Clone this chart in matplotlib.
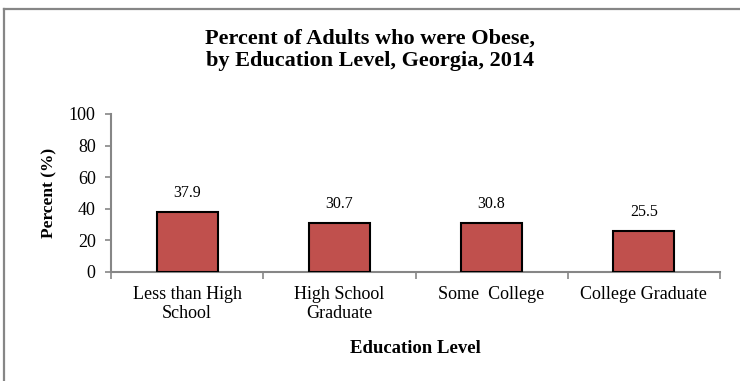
import matplotlib
matplotlib.use("Agg")
import matplotlib.pyplot as plt
from matplotlib.lines import Line2D

# ── Data ───────────────────────────────────────────────────────────────
categories = ["Less than High\nSchool", "High School\nGraduate", "Some  College", "College Graduate"]
values = [37.9, 30.7, 30.8, 25.5]
yticks = [0, 20, 40, 60, 80, 100]

plt.rcParams["font.family"] = ["Liberation Serif", "DejaVu Serif"]

fig = plt.figure(figsize=(7.40, 3.81), dpi=100)
ax = fig.add_axes([111 / 740, 1 - 271.7 / 381, (720 - 111) / 740, (271.7 - 114) / 381])

pos = list(range(len(categories)))
ax.bar(pos, values, width=0.4, color="#C0504D", edgecolor="black", linewidth=1.5, zorder=3)
for x, v in zip(pos, values):
    ax.annotate(f"{v}", (x, v), xytext=(0, 8), textcoords="offset points",
                ha="center", va="bottom", fontsize=11.5)

ax.set_xlim(-0.5, len(categories) - 0.5)
ax.set_ylim(0, 100)
ax.set_yticks(yticks)
ax.tick_params(axis="y", labelsize=13, length=4, color="#868686", width=1.2, pad=7)

# category boundaries as major ticks, labels on minor ticks at bar centres
ax.set_xticks([p - 0.5 for p in pos] + [len(categories) - 0.5])
ax.set_xticklabels([])
ax.set_xticks(pos, minor=True)
ax.set_xticklabels(categories, minor=True, fontsize=13, linespacing=1.2)
ax.tick_params(axis="x", which="major", length=5, color="#868686", width=1.2)
ax.tick_params(axis="x", which="minor", length=0, pad=10)

for side in ["top", "right"]:
    ax.spines[side].set_visible(False)
for side in ["left", "bottom"]:
    ax.spines[side].set_color("#868686")
    ax.spines[side].set_linewidth(1.5)

ax.set_ylabel("Percent (%)", fontsize=12.5, fontweight="bold", labelpad=8)
ax.set_xlabel("Education Level", fontsize=13.5, fontweight="bold", labelpad=13)

fig.text(0.5, 1 - 50 / 381, "Percent of Adults who were Obese,\nby Education Level, Georgia, 2014",
         ha="center", va="center", fontsize=16, fontweight="bold", linespacing=1.15)

# outer chart frame (only left and top visible in the crop)
fig.add_artist(Line2D([4 / 740, 4 / 740], [0, 1 - 9 / 381], transform=fig.transFigure,
                      color="#868686", linewidth=1.6))
fig.add_artist(Line2D([4 / 740, 1], [1 - 9 / 381, 1 - 9 / 381], transform=fig.transFigure,
                      color="#868686", linewidth=1.6))

fig.savefig("out.png", dpi=100)
